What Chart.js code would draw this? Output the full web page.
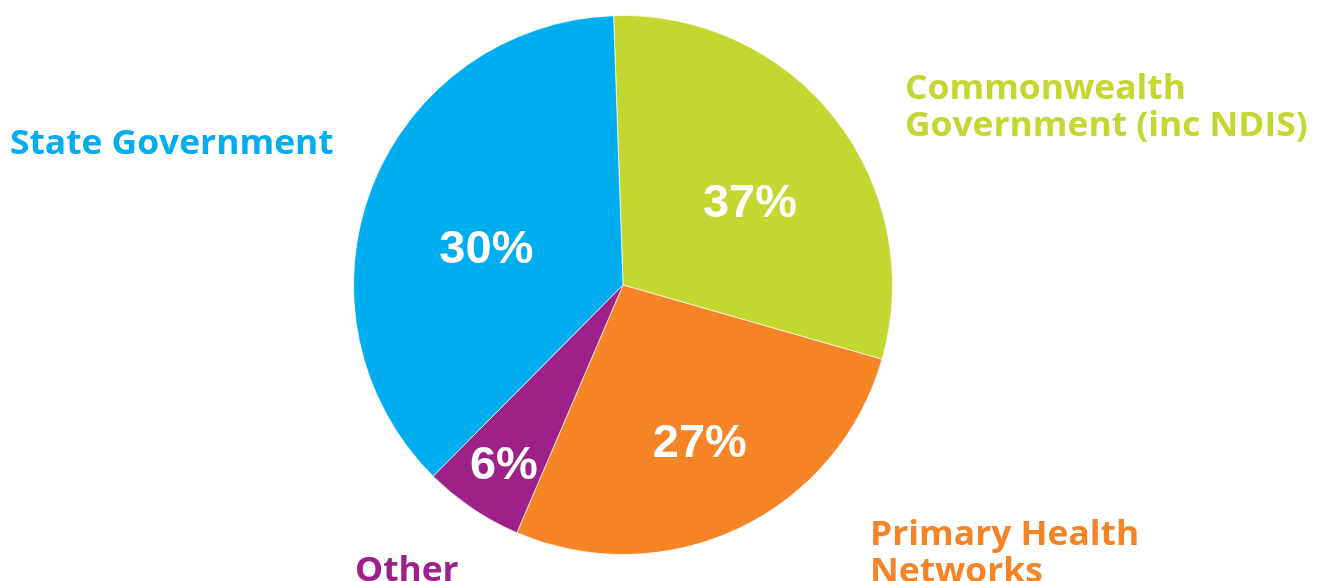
<!DOCTYPE html>
<html>
<head>
<meta charset="utf-8">
<script src="https://cdn.jsdelivr.net/npm/chart.js@4.4.1/dist/chart.umd.min.js"></script>
<style>
  html, body { margin: 0; padding: 0; background: #ffffff; }
  #wrap { width: 1328px; height: 581px; position: relative; }
</style>
</head>
<body>
<div id="wrap"><canvas id="c" width="1328" height="581"></canvas></div>
<script>
// ---- data ----
const categories = ['Commonwealth Government (inc NDIS)', 'Primary Health Networks', 'Other', 'State Government'];
const sliceValues = [30, 27, 6, 37];            // slice sizes as drawn
const printedLabels = ['37%', '27%', '6%', '30%']; // percentages printed on slices
const outerLabelLines = [
  ['Commonwealth', 'Government (inc NDIS)'],
  ['Primary Health', 'Networks'],
  ['Other'],
  ['State Government']
];
const sliceColors = ['#C2D72F', '#F58426', '#9D2188', '#00ADEE'];

// ---- styling for label placement (not data) ----
const innerPlace = [
  { da: 4.2, rf: 0.567 },
  { da: -1.0, rf: 0.641 },
  { da: 0.0, rf: 0.79 },
  { da: -5.5, rf: 0.527 }
];
const outerPlace = [
  { x: 905, y: 99, lh: 37 },
  { x: 870, y: 545, lh: 37 },
  { x: 355, y: 581, lh: 37 },
  { x: 10, y: 154, lh: 37 }
];
const outerStretch = 1.04;

const labelPlugin = {
  id: 'labels',
  afterDatasetsDraw(chart) {
    const ctx = chart.ctx;
    const meta = chart.getDatasetMeta(0);
    ctx.save();
    meta.data.forEach((arc, i) => {
      const p = arc.getProps(['x', 'y', 'startAngle', 'endAngle', 'outerRadius'], true);
      const mid = (p.startAngle + p.endAngle) / 2 + innerPlace[i].da * Math.PI / 180;
      const r = p.outerRadius * innerPlace[i].rf;
      const x = p.x + Math.cos(mid) * r;
      const y = p.y + Math.sin(mid) * r;
      ctx.fillStyle = '#ffffff';
      ctx.font = 'bold 47px "Liberation Sans", Arial, sans-serif';
      ctx.textAlign = 'center';
      ctx.textBaseline = 'alphabetic';
      ctx.fillText(printedLabels[i], x, y + 17);
    });
    outerLabelLines.forEach((lines, i) => {
      ctx.fillStyle = sliceColors[i];
      ctx.font = '700 34px "Open Sans", sans-serif';
      ctx.textAlign = 'left';
      ctx.textBaseline = 'alphabetic';
      lines.forEach((ln, j) => {
        ctx.save();
        ctx.translate(outerPlace[i].x, outerPlace[i].y + j * outerPlace[i].lh);
        ctx.scale(outerStretch, 1);
        ctx.fillText(ln, 0, 0);
        ctx.restore();
      });
    });
    ctx.restore();
  }
};

new Chart(document.getElementById('c'), {
  type: 'pie',
  data: {
    labels: categories,
    datasets: [{
      data: sliceValues,
      backgroundColor: sliceColors,
      borderColor: 'rgba(255,255,255,0.7)',
      borderWidth: 1
    }]
  },
  options: {
    responsive: false,
    animation: false,
    rotation: -2,
    layout: { padding: { top: 15, bottom: 26, left: 353, right: 435 } },
    plugins: { legend: { display: false }, tooltip: { enabled: false } }
  },
  plugins: [labelPlugin]
});
</script>
</body>
</html>
